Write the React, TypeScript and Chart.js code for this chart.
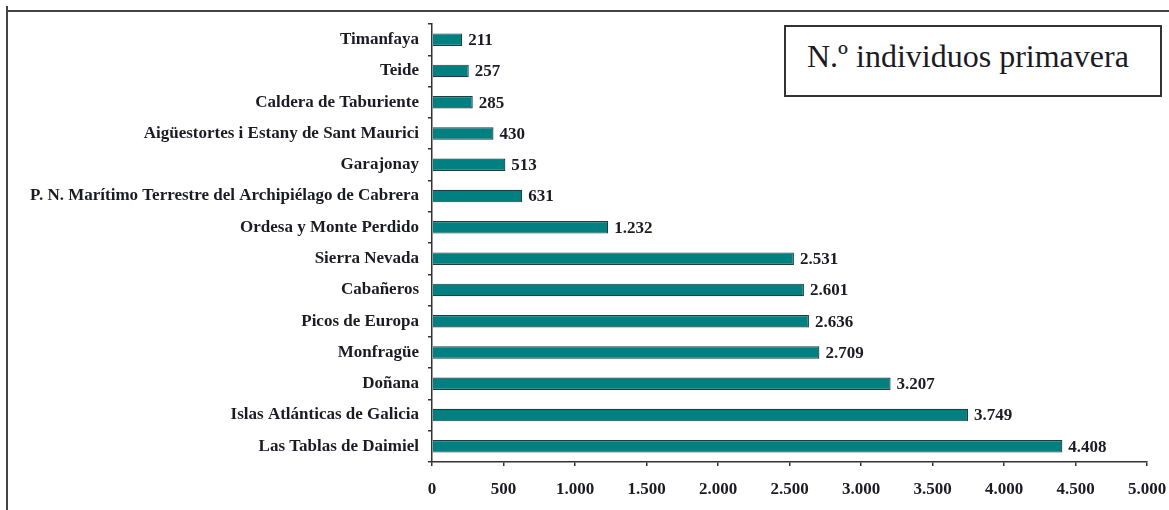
import React, { useEffect, useRef } from "react";
import { Chart, registerables } from "chart.js";

Chart.register(...registerables);

const categories: string[] = [
  "Timanfaya",
  "Teide",
  "Caldera de Taburiente",
  "Aigüestortes i Estany de Sant Maurici",
  "Garajonay",
  "P. N. Marítimo Terrestre del Archipiélago de Cabrera",
  "Ordesa y Monte Perdido",
  "Sierra Nevada",
  "Cabañeros",
  "Picos de Europa",
  "Monfragüe",
  "Doñana",
  "Islas Atlánticas de Galicia",
  "Las Tablas de Daimiel",
];

const individuos: number[] = [211, 257, 285, 430, 513, 631, 1232, 2531, 2601, 2636, 2709, 3207, 3749, 4408];

const xMin = 0;
const xMax = 5000;
const xStep = 500;

const boxTitle = "N.º individuos primavera";

const FONT = "'Liberation Serif', 'Times New Roman', serif";
const TEXT = "#1b1b24";
const AXIS = "#333333";

function fmt(n: number): string {
  const s = Math.round(n).toString();
  return s.replace(/\B(?=(\d{3})+(?!\d))/g, ".");
}

const valueLabels = {
  id: "valueLabels",
  afterDatasetsDraw(chart: any) {
    const ctx = chart.ctx;
    const meta = chart.getDatasetMeta(0);
    ctx.save();
    ctx.font = `bold 17px ${FONT}`;
    ctx.fillStyle = TEXT;
    ctx.textAlign = "left";
    ctx.textBaseline = "middle";
    meta.data.forEach((bar: any, i: number) => {
      ctx.fillText(fmt(individuos[i]), bar.x + 6, bar.y + 1);
    });
    ctx.restore();
  },
};

export default function App() {
  const ref = useRef<HTMLCanvasElement | null>(null);

  useEffect(() => {
    if (!ref.current) return;
    const chart = new Chart(ref.current, {
      type: "bar",
      data: {
        labels: categories,
        datasets: [
          {
            data: individuos,
            backgroundColor: "#008080",
            borderColor: "#1f3d3d",
            borderWidth: 1.2,
            barPercentage: 0.4,
            categoryPercentage: 1,
          },
        ],
      },
      options: {
        indexAxis: "y",
        animation: false,
        responsive: false,
        maintainAspectRatio: false,
        layout: { padding: { left: 0, right: 0, top: 24, bottom: 0 } },
        plugins: {
          legend: { display: false },
          tooltip: { enabled: false },
          title: { display: false },
        },
        scales: {
          x: {
            type: "linear",
            min: xMin,
            max: xMax,
            ticks: {
              stepSize: xStep,
              color: TEXT,
              font: { family: FONT, size: 17, weight: "bold" },
              padding: 13,
              maxRotation: 0,
              callback: (v: any) => fmt(Number(v)),
            },
            grid: {
              display: true,
              drawOnChartArea: false,
              drawTicks: true,
              tickLength: 4,
              color: AXIS,
              lineWidth: 1.5,
            },
            border: { display: true, color: AXIS, width: 1.5 },
            afterFit: (s: any) => {
              s.height = 48;
              s.paddingLeft = 0;
              s.paddingRight = 22;
            },
          },
          y: {
            type: "category",
            ticks: {
              color: TEXT,
              font: { family: FONT, size: 17, weight: "bold" },
              padding: 9,
              autoSkip: false,
            },
            grid: {
              display: true,
              offset: true,
              drawOnChartArea: false,
              drawTicks: true,
              tickLength: 4,
              color: AXIS,
              lineWidth: 1.5,
            },
            border: { display: true, color: AXIS, width: 1.5 },
            afterFit: (s: any) => {
              s.width = 432;
              s.paddingTop = 0;
              s.paddingBottom = 0;
            },
          },
        },
      },
      plugins: [valueLabels],
    } as any);
    return () => chart.destroy();
  }, []);

  return (
    <div style={{ position: "fixed", left: 0, top: 0, width: 1169, height: 510, background: "#fff", overflow: "hidden" }}>
      <div style={{ position: "absolute", left: 6, top: 10, width: 1163, height: 2, background: "#444" }} />
      <div style={{ position: "absolute", left: 6, top: 6, width: 2, height: 504, background: "#444" }} />
      <canvas ref={ref} width={1169} height={510} style={{ position: "absolute", left: 0, top: 0, width: 1169, height: 510 }} />
      <div
        style={{
          position: "absolute",
          left: 784,
          top: 25,
          width: 378,
          height: 72,
          boxSizing: "border-box",
          border: "2px solid #333",
          background: "#fff",
          fontFamily: FONT,
          fontSize: 32,
          color: TEXT,
          display: "flex",
          alignItems: "center",
          paddingLeft: 21,
          paddingBottom: 10,
          lineHeight: 1,
          whiteSpace: "nowrap",
        }}
      >
        {boxTitle}
      </div>
    </div>
  );
}
